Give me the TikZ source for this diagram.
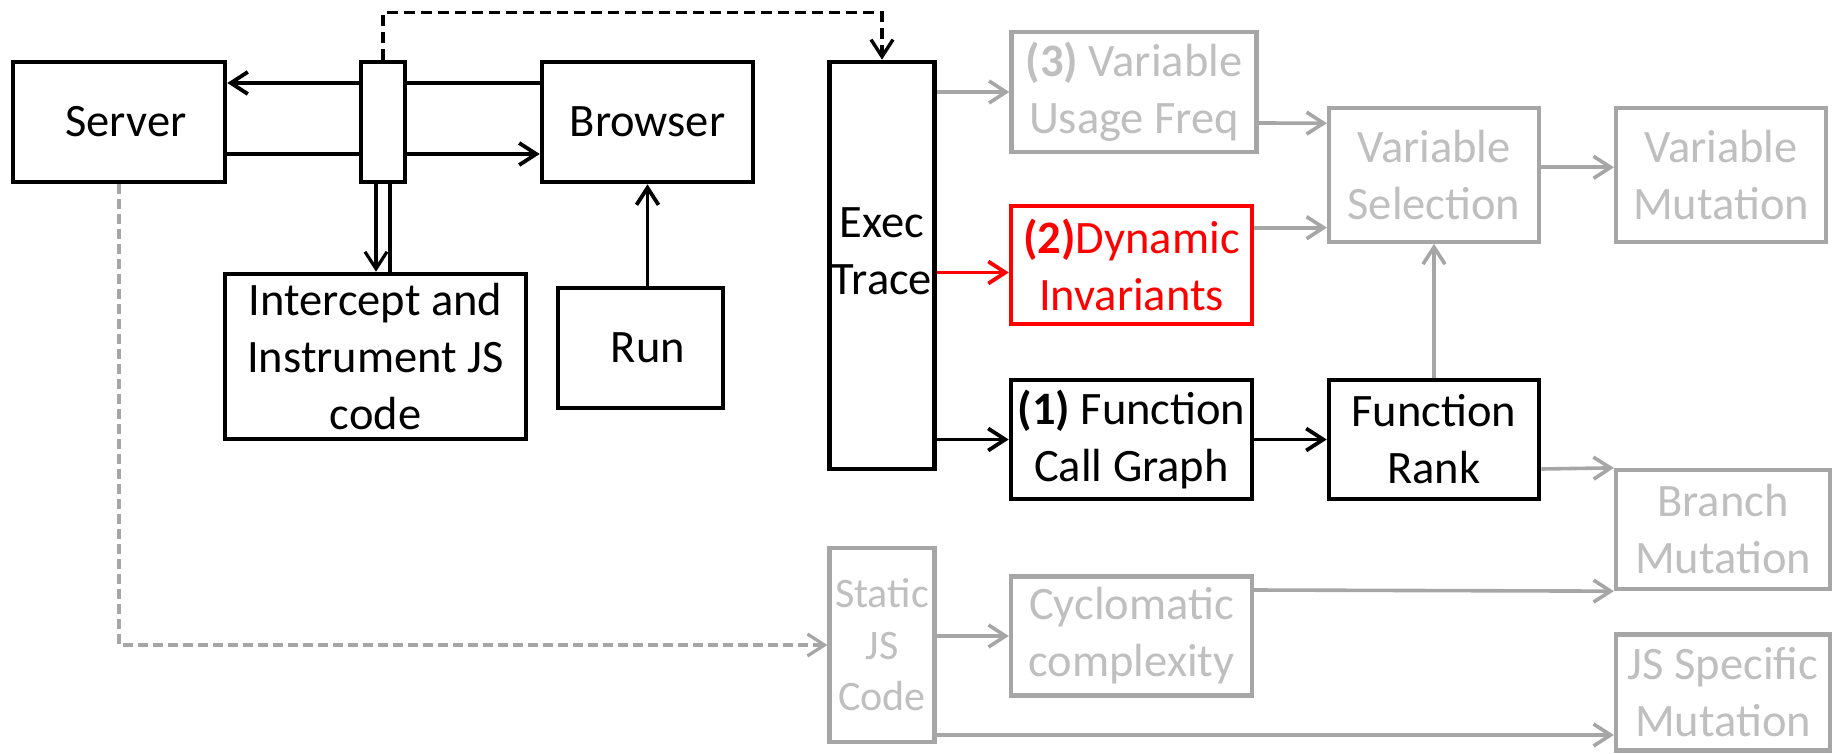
\documentclass[tikz,border=0pt]{standalone}
\usepackage{fontspec}
\setmainfont{Carlito}
\usetikzlibrary{arrows.meta}
\definecolor{gline}{HTML}{A6A6A6}
\definecolor{gtext}{HTML}{BFBFBF}
\definecolor{rd}{HTML}{FF0000}
\begin{document}
\begin{tikzpicture}[x=1pt,y=-1pt,
  every node/.style={font=\fontsize{46.5}{57}\selectfont, align=center, inner sep=0pt},
  bbox/.style 2 args={draw=black, line width=4.6pt, fill=white, minimum width=#1pt, minimum height=#2pt},
  gbox/.style 2 args={draw=gline, line width=4.3pt, fill=white, text=gtext, minimum width=#1pt, minimum height=#2pt},
  rbox/.style 2 args={draw=rd, line width=4.4pt, fill=white, text=rd, minimum width=#1pt, minimum height=#2pt},
  >={Straight Barb[length=17pt,width=22pt]},
  karr/.style={draw=black, line width=3.8pt},
  garr/.style={draw=gline, line width=3.6pt},
  rarr/.style={draw=rd, line width=3.8pt},
  kdash/.style={draw=black, line width=3.4pt, dash pattern=on 11pt off 6pt},
  gdash/.style={draw=gline, line width=3.2pt, dash pattern=on 10pt off 5pt}
]
\useasboundingbox (0,0) rectangle (1841,754);

\node[bbox={212}{120}] (server) at (119,122) {\hspace*{14pt}Server};
\node[bbox={44}{120}] (proxy) at (383,122) {};
\node[bbox={211}{120}] (browser) at (647.5,122) {Browser};
\node[bbox={301}{165}] (intercept) at (375.5,356.5) {Intercept and\\Instrument JS\\code};
\node[bbox={165}{120}] (run) at (640.5,348) {\hspace*{15pt}Run};
\node[bbox={105}{407}] (exec) at (882,265.5) {};
\node (exectext) at ([yshift=14pt]exec.center) {Exec\\Trace};

\node[gbox={245}{120}] (usage) at (1134,92) {\textbf{(3)} Variable\\Usage Freq};
\node[rbox={241}{118}] (dyn) at (1131.5,265) {\textbf{(2)}Dynamic\\Invariants};
\node[bbox={241}{119}] (cg) at (1131.5,439.5) {\textbf{(1)} Function\\Call Graph};
\node[gbox={210}{134}] (vs) at (1434,174.7) {Variable\\Selection};
\node[gbox={210}{134}] (vm) at (1721,174.7) {Variable\\Mutation};
\node[bbox={210}{119}] (fr) at (1434,439.5) {Function\\Rank};
\node[gbox={214}{119}] (branch) at (1723,529.5) {Branch\\Mutation};
\node[gbox={105}{194}, font=\fontsize{42}{51.5}\selectfont] (static) at (882,645) {Static\\JS\\Code};
\node[gbox={241}{119}] (cyc) at (1131.5,636) {Cyclomatic\\complexity};
\node[gbox={214}{116}] (jss) at (1723,692.5) {JS Specific\\Mutation};

% server <-> browser through proxy
\draw[karr] ([yshift=39pt]browser.west) -- ([yshift=39pt]proxy.east);
\draw[karr,->] ([yshift=39pt]proxy.west) -- ([yshift=39pt]server.east);
\draw[karr] ([yshift=-32pt]server.east) -- ([yshift=-32pt]proxy.west);
\draw[karr,->] ([yshift=-32pt]proxy.east) -- ([yshift=-32pt]browser.west);

% double line to intercept
\coordinate (dl) at ([xshift=-7pt]proxy.south);
\coordinate (dr) at ([xshift=7pt]proxy.south);
\draw[karr,line width=3.2pt,->] (dl) -- (dl |- intercept.north);
\draw[karr,line width=4.8pt] (dr) -- (dr |- intercept.north);

% run -> browser
\draw[karr,->] (browser.south |- run.north) -- (browser.south);

% dashed proxy -> exec
\draw[kdash,->] (proxy.north) -- ++(0,-47) -| (exec.north);

% exec outputs
\draw[garr,->] (exec.east |- usage.west) -- (usage.west);
\draw[rarr,->] ([yshift=-7pt]exec.east) -- ([yshift=-7.5pt]dyn.west);
\draw[karr,->] (exec.east |- cg.west) -- (cg.west);

% into variable selection
\draw[garr,->] ([yshift=-31pt]usage.east) -- ([yshift=51.5pt]vs.west);
\draw[garr,->] ([yshift=37.3pt]dyn.east) -- ([yshift=-53pt]vs.west);
\draw[garr,->] ([yshift=7.4pt]vs.east) -- ([yshift=7.4pt]vm.west);

\draw[karr,->] (cg.east) -- (fr.west);
\draw[garr,->] (fr.north) -- (vs.south);
\draw[garr,->] ([yshift=-29.5pt]fr.east) -- (branch.north west);

% static branch
\draw[gdash,->] (server.south) |- (static.west);
\draw[garr,->] (static.east |- cyc.west) -- (cyc.west);
\draw[garr,->] ([yshift=46pt]cyc.east) -- (branch.south west);
\draw[garr,->] ([yshift=-90pt]static.east) -- ([yshift=-42.5pt]jss.west);
\end{tikzpicture}
\end{document}
